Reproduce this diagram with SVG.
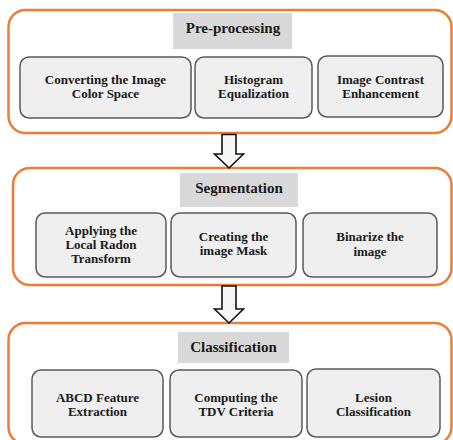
<svg xmlns="http://www.w3.org/2000/svg" width="453" height="440" viewBox="0 0 453 440">
<style>
.stage{fill:#ffffff;stroke:#ed7d31;stroke-width:2.5}
.title{fill:#d9d9d9;stroke:none}
.box{fill:#efefef;stroke:#595959;stroke-width:1.5}
.arrow{fill:#f7f7f7;stroke:#111;stroke-width:1.6;stroke-linejoin:miter}
text{font-family:"Liberation Serif","Times New Roman",serif;font-weight:bold;fill:#1a1a1a;text-anchor:middle}
.t{font-size:15px}
.s{font-size:13px}
</style>
<rect width="453" height="440" fill="#ffffff"/>
<g id="stage-preprocessing">
<rect class="stage" x="8.5" y="10" width="443" height="123" rx="17"/>
</g>
<g id="stage-segmentation">
<rect class="stage" x="13" y="168" width="438.5" height="117" rx="17"/>
</g>
<g id="stage-classification">
<rect class="stage" x="8.5" y="323" width="443" height="121" rx="17"/>
</g>
<g id="title-preprocessing">
<rect class="title" x="173" y="13" width="119" height="36"/>
<text class="t" x="233" y="33">Pre-processing</text>
</g>
<g id="n-color-space">
<rect class="box" x="20" y="57" width="171" height="61" rx="9"/>
<text class="s" x="105.5" y="84">Converting the Image</text>
<text class="s" x="105.5" y="98">Color Space</text>
</g>
<g id="n-hist-eq">
<rect class="box" x="195" y="57" width="117" height="61" rx="9"/>
<text class="s" x="253.5" y="84">Histogram</text>
<text class="s" x="253.5" y="98">Equalization</text>
</g>
<g id="n-contrast">
<rect class="box" x="318" y="56" width="125" height="61" rx="9"/>
<text class="s" x="380.5" y="84">Image Contrast</text>
<text class="s" x="380.5" y="98">Enhancement</text>
</g>
<g id="title-segmentation">
<rect class="title" x="180" y="173" width="118" height="34"/>
<text class="t" x="239" y="193">Segmentation</text>
</g>
<g id="n-radon">
<rect class="box" x="36" y="213" width="130" height="64" rx="9"/>
<text class="s" x="101" y="235">Applying the</text>
<text class="s" x="101" y="249">Local Radon</text>
<text class="s" x="101" y="263">Transform</text>
</g>
<g id="n-mask">
<rect class="box" x="171" y="213" width="125" height="64" rx="9"/>
<text class="s" x="233.5" y="241">Creating the</text>
<text class="s" x="233.5" y="255">image Mask</text>
</g>
<g id="n-binarize">
<rect class="box" x="303" y="213" width="134" height="64" rx="9"/>
<text class="s" x="370" y="241">Binarize the</text>
<text class="s" x="370" y="256">image</text>
</g>
<g id="title-classification">
<rect class="title" x="178" y="332" width="111" height="31"/>
<text class="t" x="233.5" y="352">Classification</text>
</g>
<g id="n-abcd">
<rect class="box" x="32" y="370" width="131" height="67" rx="9"/>
<text class="s" x="97.5" y="402">ABCD Feature</text>
<text class="s" x="97.5" y="416">Extraction</text>
</g>
<g id="n-tdv">
<rect class="box" x="170" y="370" width="132" height="67" rx="9"/>
<text class="s" x="236" y="402">Computing the</text>
<text class="s" x="236" y="416">TDV Criteria</text>
</g>
<g id="n-lesion">
<rect class="box" x="307" y="369" width="133" height="68" rx="9"/>
<text class="s" x="373.5" y="402">Lesion</text>
<text class="s" x="373.5" y="416">Classification</text>
</g>
<g id="connectors">
<polygon class="arrow" points="222,134.5 236,134.5 236,154 243.5,154 229,168 214.5,154 222,154"/>
<polygon class="arrow" points="222,286 236,286 236,309 243.5,309 229,323 214.5,309 222,309"/>
</g>
</svg>
